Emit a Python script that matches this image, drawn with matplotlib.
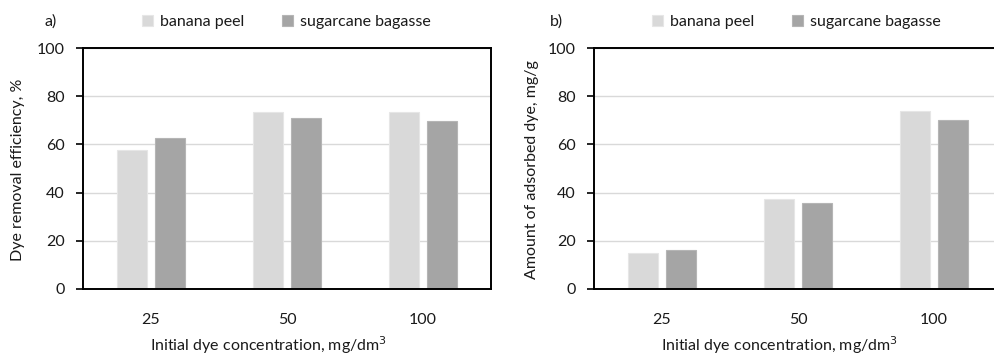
import matplotlib
matplotlib.use("Agg")
import matplotlib.pyplot as plt
import numpy as np

categories = ["25", "50", "100"]
series_names = ["banana peel", "sugarcane bagasse"]
efficiency_banana = [57.7, 73.4, 73.4]
efficiency_bagasse = [62.7, 70.8, 69.6]
adsorbed_banana = [15.0, 37.5, 73.9]
adsorbed_bagasse = [16.0, 35.8, 70.0]
yticks = [0, 20, 40, 60, 80, 100]

plt.rcParams['font.family'] = ['Lato', 'DejaVu Sans']
plt.rcParams['font.size'] = 11.5
FS = 11.5
TXT = '#1a1a1a'

col_banana = '#D9D9D9'
col_bagasse = '#A5A5A5'

fig = plt.figure(figsize=(9.95, 3.54), dpi=100)
W, H = 995, 354

def make_axes(left_px):
    return fig.add_axes([left_px / W, (H - 289) / H, 408 / W, 241 / H])

axes = [make_axes(83), make_axes(594)]
datasets = [(efficiency_banana, efficiency_bagasse), (adsorbed_banana, adsorbed_bagasse)]
ylabels = ["Dye removal efficiency, %", "Amount of adsorbed dye, mg/g"]
panel = ["a)", "b)"]
panel_x = [45, 550]
ylabel_x = [18, 532]
legend_x = [142, 652]
xlabel_cx = [268, 779]

x = np.arange(len(categories))
bw = 0.22
off = 0.143
for i, ax in enumerate(axes):
    b, s = datasets[i]
    ax.bar(x - off, b, bw, color=col_banana, edgecolor='#E6E6E6', linewidth=0.8, zorder=3,
           label=series_names[0])
    ax.bar(x + off, s, bw, color=col_bagasse, edgecolor='#B5B5B5', linewidth=0.8, zorder=3,
           label=series_names[1])
    ax.set_xlim(-0.5, 2.5)
    ax.set_ylim(0, 100)
    ax.set_yticks(yticks)
    ax.set_xticks(x)
    ax.set_xticklabels(categories)
    ax.yaxis.grid(True, color='#D9D9D9', linewidth=1.0, zorder=0)
    ax.set_axisbelow(True)
    for sp in ax.spines.values():
        sp.set_color('black')
        sp.set_linewidth(1.4)
        sp.set_zorder(4)
    ax.tick_params(axis='y', direction='out', length=5, width=1.2, pad=8, labelsize=FS, colors=TXT)
    ax.tick_params(axis='y', colors='black', labelcolor=TXT)
    ax.tick_params(axis='x', length=0, pad=17, labelsize=FS, labelcolor=TXT)
    ax.set_xlabel("Initial dye concentration, mg/dm$^3$", fontsize=FS, color=TXT)
    ax.xaxis.set_label_coords((xlabel_cx[i] - ax.get_position().x0 * W) / 408, (289 - 345) / 241,
                              transform=ax.transAxes)
    ax.xaxis.label.set_va('center')
    fig.text(ylabel_x[i] / W, 1 - 170 / H, ylabels[i], rotation=90, ha='center', va='center',
             fontsize=FS, color=TXT)
    fig.text(panel_x[i] / W, 1 - 22 / H, panel[i], ha='left', va='center', fontsize=FS, color=TXT)
    leg = ax.legend(loc='center left', bbox_to_anchor=(legend_x[i] / W, 1 - 22 / H),
                    bbox_transform=fig.transFigure, ncol=2, frameon=False, fontsize=FS,
                    handlelength=0.7, handleheight=0.7, handletextpad=0.4, columnspacing=2.4,
                    borderaxespad=0, borderpad=0)
    for t in leg.get_texts():
        t.set_color(TXT)

fig.savefig("out.png", dpi=100)
